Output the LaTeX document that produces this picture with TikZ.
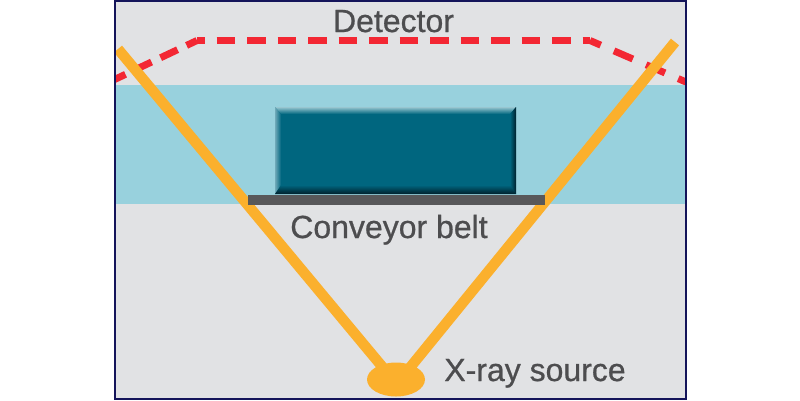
\documentclass[tikz,border=0pt]{standalone}
\usetikzlibrary{shapes.geometric}
\usepackage{fontspec}
\setmainfont{Liberation Sans}
\newfontfamily\lblfont{Liberation Sans}[FakeBold=0.7]
\definecolor{panelgrey}{HTML}{E1E2E4}
\definecolor{bandblue}{HTML}{98D1DD}
\definecolor{boxteal}{HTML}{00667F}
\definecolor{boxlight}{HTML}{98C6D0}
\definecolor{boxside}{HTML}{6FA9B8}
\definecolor{boxdark}{HTML}{00202C}
\definecolor{beltgrey}{HTML}{58585A}
\definecolor{framenavy}{HTML}{14145A}
\definecolor{rayorange}{HTML}{FBB02D}
\definecolor{detred}{HTML}{F32733}
\definecolor{labelgrey}{HTML}{4D4D4F}
\tikzset{
  lbl/.style={text=labelgrey,font=\lblfont\fontsize{32}{32}\selectfont,inner sep=0pt,anchor=base},
  ray/.style={draw=rayorange,line width=10.5pt},
  detline/.style={draw=detred,line width=7pt},
}
\begin{document}
\begin{tikzpicture}[x=1pt,y=-1pt]
\useasboundingbox (0,0) rectangle (800,400);
\fill[white] (0,0) rectangle (800,400);
\begin{scope}
\clip (114,1) rectangle (686,398.5);
\fill[panelgrey] (114,1) rectangle (686,398.5);
\fill[bandblue] (114,85) rectangle (686,204);
\coordinate (detA) at (113.5,80);
\coordinate (detB) at (197,40.5);
\coordinate (detC) at (590,40.5);
\coordinate (detD) at (686,82);
\draw[detline,dash pattern=on 18.8pt off 10pt,dash phase=7.3pt] (detB) -- (detA);
\draw[detline,dash pattern=on 18.5pt off 12pt,dash phase=10.8pt] (detB) -- (detC);
\draw[detline,dash pattern=on 20.6pt off 14.4pt,dash phase=8.9pt] (detC) -- (detD);
\end{scope}
\coordinate (rayLtip) at (118,49);
\coordinate (rayRtip) at (675,42);
\coordinate (rayLfoot) at (385,370);
\coordinate (rayRfoot) at (408,370);
\draw[ray] (rayLtip) -- (rayLfoot);
\draw[ray] (rayRtip) -- (rayRfoot);
\node[ellipse,fill=rayorange,inner sep=0pt,minimum width=58pt,minimum height=34pt] (srcspot) at (396,379.5) {};
\fill[boxteal] (275,107) rectangle (516,194);
\path[top color=boxlight,bottom color=boxteal] (275,107) -- (516,107) -- (510,114) -- (281,114) -- cycle;
\path[left color=boxside,right color=boxteal] (275,107) -- (281,114) -- (281,186) -- (275,194) -- cycle;
\path[left color=boxteal,right color=boxdark] (516,107) -- (510,114) -- (510,186) -- (516,194) -- cycle;
\path[top color=boxteal,bottom color=boxdark] (275,194) -- (281,185) -- (510,185) -- (516,194) -- cycle;
\fill[beltgrey] (248,195) rectangle (545,205);
\node[lbl] (detector) at (393.5,32) {Detector};
\node[lbl] (belt) at (389,238) {Conveyor belt};
\node[lbl] (source) at (535,381) {X-ray source};
\draw[framenavy,line width=2pt] (114.5,1) rectangle (685.5,398.5);
\end{tikzpicture}
\end{document}
